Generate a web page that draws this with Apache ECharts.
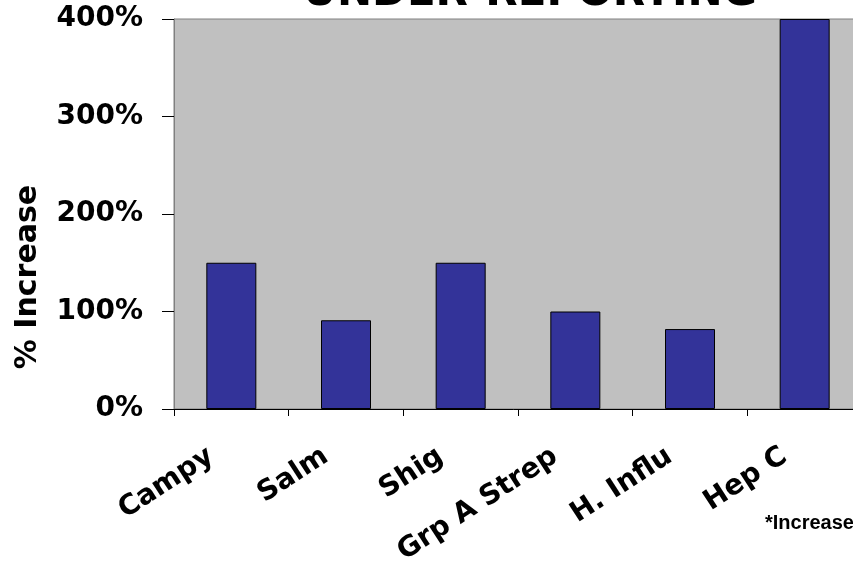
<!DOCTYPE html>
<html>
<head>
<meta charset="utf-8">
<script src="https://cdn.jsdelivr.net/npm/echarts@6/dist/echarts.min.js"></script>
<style>
  html, body { margin: 0; padding: 0; background: #fff; }
  #chart { width: 853px; height: 563px; }
</style>
</head>
<body>
<div id="chart"></div>
<script>
// 数据
const categories = ['Campy', 'Salm', 'Shig', 'Grp A Strep', 'H. Influ', 'Hep C']
const increase = [150, 91, 150, 100, 82, 400]
const yTicks = [0, 100, 200, 300, 400]

const titleText = 'UNDER-REPORTING'
const noteText = '*Increase'

const font = 'DejaVu Sans'

let myChart = echarts.init(document.getElementById('chart'))

let option = {
  animation: false,
  grid: {
    left: 174,
    top: 19,
    bottom: 154,
    width: 688, // 最后一格超出画布
    outerBoundsMode: 'none', // v6 默认会把标签挤进画布
    show: true,
    backgroundColor: '#c0c0c0',
    borderColor: '#808080',
    borderWidth: 1,
  },
  xAxis: {
    type: 'category',
    data: categories,
    axisLine: { lineStyle: { color: '#000', width: 1 } },
    axisTick: { show: true, length: 7, lineStyle: { color: '#000' } },
    axisLabel: {
      rotate: 33,
      margin: 32,
      padding: [0, 24, 0, 0],
      interval: 0,
      color: '#000',
      fontFamily: font,
      fontWeight: 'bold',
      fontSize: 28,
    },
  },
  yAxis: {
    type: 'value',
    min: yTicks[0],
    max: yTicks[yTicks.length - 1],
    interval: 100,
    name: '% Increase',
    nameLocation: 'middle',
    nameRotate: 90,
    nameGap: 131,
    nameTextStyle: {
      color: '#000',
      fontFamily: font,
      fontWeight: 'bold',
      fontSize: 30,
      padding: [0, 126, 0, 0],
    },
    splitLine: { show: false },
    axisLine: { show: true, lineStyle: { color: '#808080' } },
    axisTick: { show: true, length: 12, lineStyle: { color: '#000' } },
    axisLabel: {
      margin: 31,
      color: '#000',
      fontFamily: font,
      fontWeight: 'bold',
      fontSize: 28,
      formatter: v => v + '%',
    },
  },
  series: [
    {
      type: 'bar',
      data: increase,
      barWidth: 50,
      itemStyle: {
        color: '#333399',
        borderColor: '#000',
        borderWidth: 1,
      },
    },
  ],
  graphic: [
    {
      type: 'text',
      style: {
        x: 530,
        y: -6,
        text: titleText,
        textAlign: 'center',
        textVerticalAlign: 'middle',
        font: 'bold 42px "DejaVu Sans"',
        fill: '#000',
      },
    },
    {
      type: 'text',
      style: {
        x: 765,
        y: 523,
        text: noteText,
        textAlign: 'left',
        textVerticalAlign: 'middle',
        font: 'bold 20px "Liberation Sans"',
        fill: '#000',
      },
    },
  ],
}

myChart.setOption(option)
</script>
</body>
</html>
